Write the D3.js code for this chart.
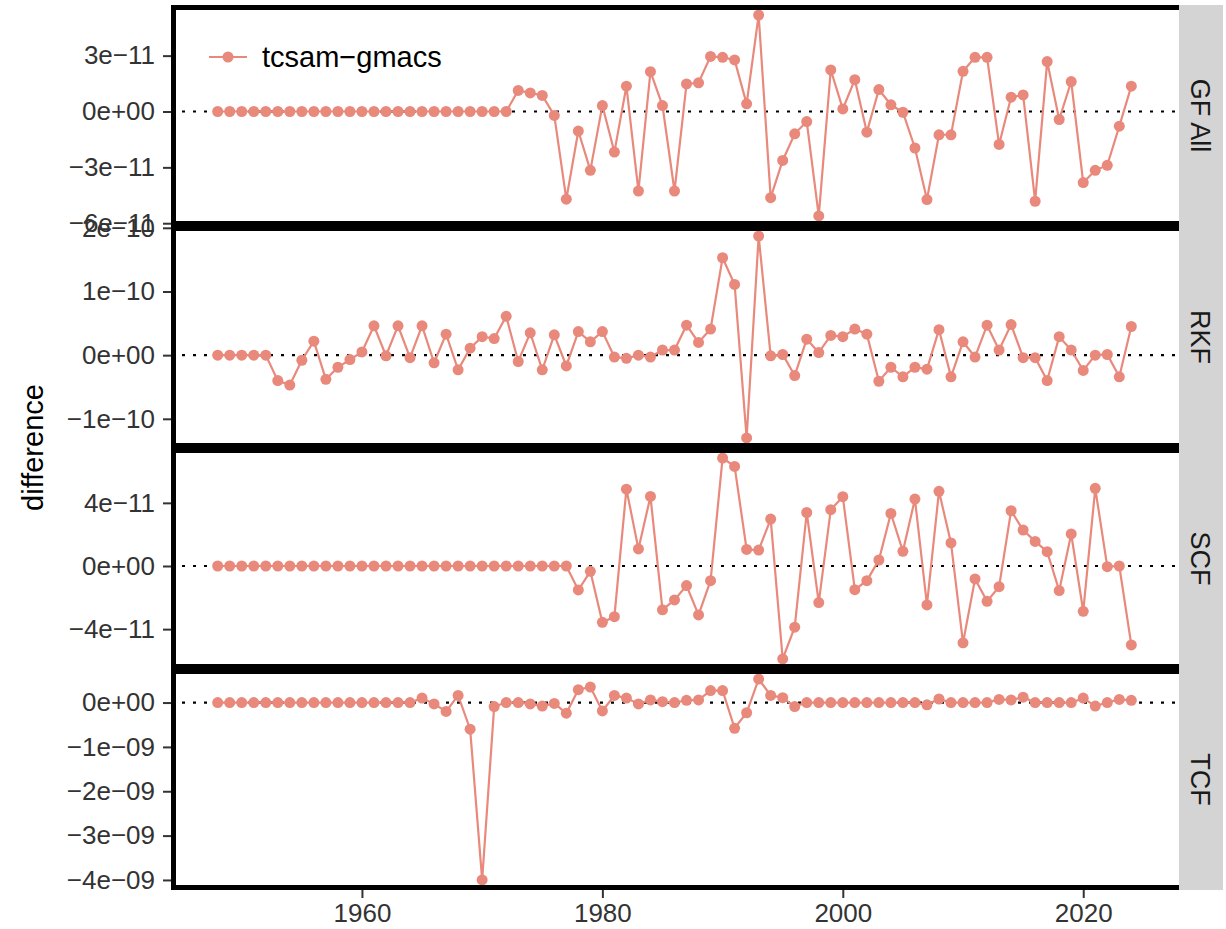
<!DOCTYPE html>
<html>
<head>
<meta charset="utf-8">
<script src="https://cdn.jsdelivr.net/npm/d3@7"></script>
<style>
  body { margin: 0; background: #fff; }
  text { font-family: "Liberation Sans", Arial, Helvetica, sans-serif; }
</style>
</head>
<body>
<div id="chart"></div>
<script>
// years on the x axis
var years = [1948, 1949, 1950, 1951, 1952, 1953, 1954, 1955, 1956, 1957,
  1958, 1959, 1960, 1961, 1962, 1963, 1964, 1965, 1966, 1967,
  1968, 1969, 1970, 1971, 1972, 1973, 1974, 1975, 1976, 1977,
  1978, 1979, 1980, 1981, 1982, 1983, 1984, 1985, 1986, 1987,
  1988, 1989, 1990, 1991, 1992, 1993, 1994, 1995, 1996, 1997,
  1998, 1999, 2000, 2001, 2002, 2003, 2004, 2005, 2006, 2007,
  2008, 2009, 2010, 2011, 2012, 2013, 2014, 2015, 2016, 2017,
  2018, 2019, 2020, 2021, 2022, 2023, 2024];

// tcsam - gmacs differences, one list per fishery (in units of gfAllUnit etc.)
var gfAllUnit = 1e-11;
var gfAll = [0, 0, 0, 0, 0, 0, 0, 0, 0, 0,
  0, 0, 0, 0, 0, 0, 0, 0, 0, 0,
  0, 0, 0, 0, 0, 1.13, 1.0, 0.86, -0.21, -4.71,
  -1.05, -3.16, 0.32, -2.18, 1.36, -4.27, 2.14, 0.32, -4.27, 1.48,
  1.54, 2.96, 2.91, 2.77, 0.41, 5.18, -4.63, -2.63, -1.20, -0.54,
  -5.61, 2.23, 0.14, 1.71, -1.11, 1.18, 0.36, -0.04, -1.96, -4.73,
  -1.25, -1.25, 2.16, 2.91, 2.91, -1.77, 0.77, 0.89, -4.82, 2.68,
  -0.43, 1.61, -3.82, -3.16, -2.89, -0.79, 1.36];

var rkfUnit = 1e-10;
var rkf = [0, 0, 0, 0, 0, -0.40, -0.47, -0.08, 0.22, -0.38,
  -0.19, -0.07, 0.05, 0.46, -0.01, 0.46, -0.04, 0.46, -0.12, 0.33,
  -0.23, 0.11, 0.29, 0.26, 0.61, -0.10, 0.35, -0.23, 0.32, -0.17,
  0.37, 0.21, 0.37, -0.03, -0.05, 0.0, -0.03, 0.08, 0.08, 0.47,
  0.20, 0.41, 1.53, 1.11, -1.30, 1.87, -0.01, 0.01, -0.32, 0.25,
  0.04, 0.31, 0.29, 0.41, 0.33, -0.41, -0.19, -0.34, -0.19, -0.22,
  0.40, -0.34, 0.21, -0.03, 0.47, 0.08, 0.48, -0.04, -0.04, -0.40,
  0.29, 0.08, -0.24, 0.0, 0.01, -0.34, 0.45];

var scfUnit = 1e-11;
var scf = [0, 0, 0, 0, 0, 0, 0, 0, 0, 0,
  0, 0, 0, 0, 0, 0, 0, 0, 0, 0,
  0, 0, 0, 0, 0, 0, 0, 0, 0, 0,
  -1.52, -0.34, -3.57, -3.21, 4.87, 1.08, 4.41, -2.78, -2.15, -1.24,
  -3.10, -0.93, 6.84, 6.31, 1.05, 1.01, 2.97, -5.89, -3.88, 3.39,
  -2.32, 3.57, 4.39, -1.50, -0.93, 0.38, 3.33, 0.93, 4.24, -2.47,
  4.73, 1.46, -4.87, -0.82, -2.24, -1.31, 3.50, 2.28, 1.56, 0.91,
  -1.56, 2.03, -2.87, 4.92, -0.04, 0.0, -5.00];

var tcfUnit = 1e-9;
var tcf = [0, 0, 0, 0, 0, 0, 0, 0, 0, 0,
  0, 0, 0, 0, 0, 0, 0, 0.10, -0.03, -0.20,
  0.16, -0.60, -4.00, -0.09, 0, 0, -0.03, -0.08, -0.02, -0.24,
  0.29, 0.35, -0.19, 0.16, 0.10, -0.03, 0.06, 0.02, 0, 0.05,
  0.06, 0.27, 0.27, -0.58, -0.23, 0.53, 0.16, 0.11, -0.09, 0,
  0, 0, 0, 0, 0, 0, 0, 0, 0, -0.05,
  0.08, 0, 0, 0, 0, 0.07, 0.06, 0.12, 0, 0,
  0, 0, 0.10, -0.08, 0, 0.07, 0.05];

// facet labels and y tick values (in the same units as the lists)
var panelNames = ["GF All", "RKF", "SCF", "TCF"];
var gfAllTicks = [-6, -3, 0, 3];
var rkfTicks = [-1, 0, 1, 2];
var scfTicks = [-4, 0, 4];
var tcfTicks = [-4, -3, -2, -1, 0];
var xTicks = [1960, 1980, 2000, 2020];
var seriesName = "tcsam\u2212gmacs";
var yTitle = "difference";

var panels = [
  {name: panelNames[0], values: gfAll, unit: gfAllUnit, ticks: gfAllTicks},
  {name: panelNames[1], values: rkf, unit: rkfUnit, ticks: rkfTicks},
  {name: panelNames[2], values: scf, unit: scfUnit, ticks: scfTicks},
  {name: panelNames[3], values: tcf, unit: tcfUnit, ticks: tcfTicks}
];

var svgWidth = 1226;
var svgHeight = 929;
var plotLeft = 171;
var plotRight = 1179;
var stripRight = 1223;
var plotTop = 5;
var plotBottom = 890;
var panelH = (plotBottom - plotTop) / panels.length;
var lineColor = "#E8897C";
var tickFont = "26px";

// R style scientific labels, e.g. 3e-11, 0e+00
function sciLabel(v) {
  if (v === 0) return "0e+00";
  var e = Math.floor(Math.log10(Math.abs(v)) + 1e-9);
  var m = Math.round(v / Math.pow(10, e));
  var es = (e < 0 ? "\u2212" : "+") + (Math.abs(e) < 10 ? "0" : "") + Math.abs(e);
  return (m < 0 ? "\u2212" : "") + Math.abs(m) + "e" + es;
}

// ggplot adds 5% on each side of the data range
function padded(ext) {
  var r = ext[1] - ext[0];
  return [ext[0] - 0.05 * r, ext[1] + 0.05 * r];
}

var svg = d3.select("#chart")
  .append("svg")
  .attr("width", svgWidth)
  .attr("height", svgHeight);

var x = d3.scaleLinear()
  .domain(padded(d3.extent(years)))
  .range([172, 1177]);

var defs = svg.append("defs");
var frames = svg.append("g").attr("class", "frames");

panels.forEach(function(p, i) {
  var top = Math.round(plotTop + i * panelH);
  var bottom = Math.round(plotTop + (i + 1) * panelH);
  var vals = p.values.map(function(v) { return v * p.unit; });

  var y = d3.scaleLinear()
    .domain(padded(d3.extent(vals)))
    .range([bottom, top]);

  defs.append("clipPath")
    .attr("id", "clip" + i)
    .append("rect")
    .attr("x", plotLeft)
    .attr("y", top)
    .attr("width", plotRight - plotLeft)
    .attr("height", bottom - top);

  var inner = frames.append("g").attr("clip-path", "url(#clip" + i + ")");

  // zero reference line
  inner.append("line")
    .attr("x1", plotLeft)
    .attr("x2", plotRight)
    .attr("y1", y(0))
    .attr("y2", y(0))
    .attr("stroke", "#000")
    .attr("stroke-width", 2.2)
    .attr("stroke-dasharray", "3,8");

  var line = d3.line()
    .x(function(d, j) { return x(years[j]); })
    .y(function(d) { return y(d); });

  inner.append("path")
    .datum(vals)
    .attr("d", line)
    .attr("fill", "none")
    .attr("stroke", lineColor)
    .attr("stroke-width", 2.2);

  inner.selectAll("circle")
    .data(vals)
    .enter()
    .append("circle")
    .attr("cx", function(d, j) { return x(years[j]); })
    .attr("cy", function(d) { return y(d); })
    .attr("r", 5.5)
    .attr("fill", lineColor);

  // panel border, inner half only like a clipped ggplot border
  svg.append("rect")
    .attr("x", plotLeft + 2.5)
    .attr("y", top + 2.5)
    .attr("width", plotRight - plotLeft)
    .attr("height", bottom - top - 5)
    .attr("fill", "none")
    .attr("stroke", "#000")
    .attr("stroke-width", 5)
    .attr("shape-rendering", "crispEdges");

  // y axis
  var yAxis = d3.axisLeft(y)
    .tickValues(p.ticks.map(function(t) { return t * p.unit; }))
    .tickFormat(sciLabel)
    .tickSize(8)
    .tickPadding(8)
    .tickSizeOuter(0);

  var ya = svg.append("g")
    .attr("transform", "translate(" + plotLeft + ",0)")
    .call(yAxis);
  ya.select(".domain").remove();
  ya.selectAll("line").attr("stroke", "#333").attr("stroke-width", 2);
  ya.selectAll("text")
    .attr("fill", "#333")
    .style("font-size", tickFont)
    .style("font-family", "'Liberation Sans', Arial, sans-serif");

  // facet strip
  svg.append("rect")
    .attr("x", plotRight)
    .attr("y", top)
    .attr("width", stripRight - plotRight)
    .attr("height", bottom - top)
    .attr("fill", "#D4D4D4")
    .attr("shape-rendering", "crispEdges");

  svg.append("text")
    .attr("transform", "translate(" + ((plotRight + stripRight) / 2) + "," + ((top + bottom) / 2) + ") rotate(90)")
    .attr("text-anchor", "middle")
    .attr("dy", "0.36em")
    .attr("fill", "#1a1a1a")
    .style("font-size", "27px")
    .text(p.name);
});

// x axis under the last panel
var xAxis = d3.axisBottom(x)
  .tickValues(xTicks)
  .tickFormat(d3.format("d"))
  .tickSize(8)
  .tickPadding(6)
  .tickSizeOuter(0);

var xa = svg.append("g")
  .attr("transform", "translate(0," + plotBottom + ")")
  .call(xAxis);
xa.select(".domain").remove();
xa.selectAll("line").attr("stroke", "#333").attr("stroke-width", 2);
xa.selectAll("text")
  .attr("fill", "#333")
  .style("font-size", tickFont)
  .style("font-family", "'Liberation Sans', Arial, sans-serif");

// y axis title
svg.append("text")
  .attr("transform", "translate(33," + ((plotTop + plotBottom) / 2) + ") rotate(-90)")
  .attr("text-anchor", "middle")
  .attr("dy", "0.36em")
  .attr("fill", "#000")
  .style("font-size", "29px")
  .text(yTitle);

// legend inside the first panel
var legend = svg.append("g").attr("transform", "translate(228,57)");
legend.append("line")
  .attr("x1", -19)
  .attr("x2", 19)
  .attr("stroke", lineColor)
  .attr("stroke-width", 2.2);
legend.append("circle")
  .attr("r", 5.5)
  .attr("fill", lineColor);
legend.append("text")
  .attr("x", 34)
  .attr("dy", "0.36em")
  .attr("fill", "#000")
  .style("font-size", "29px")
  .text(seriesName);
</script>
</body>
</html>
